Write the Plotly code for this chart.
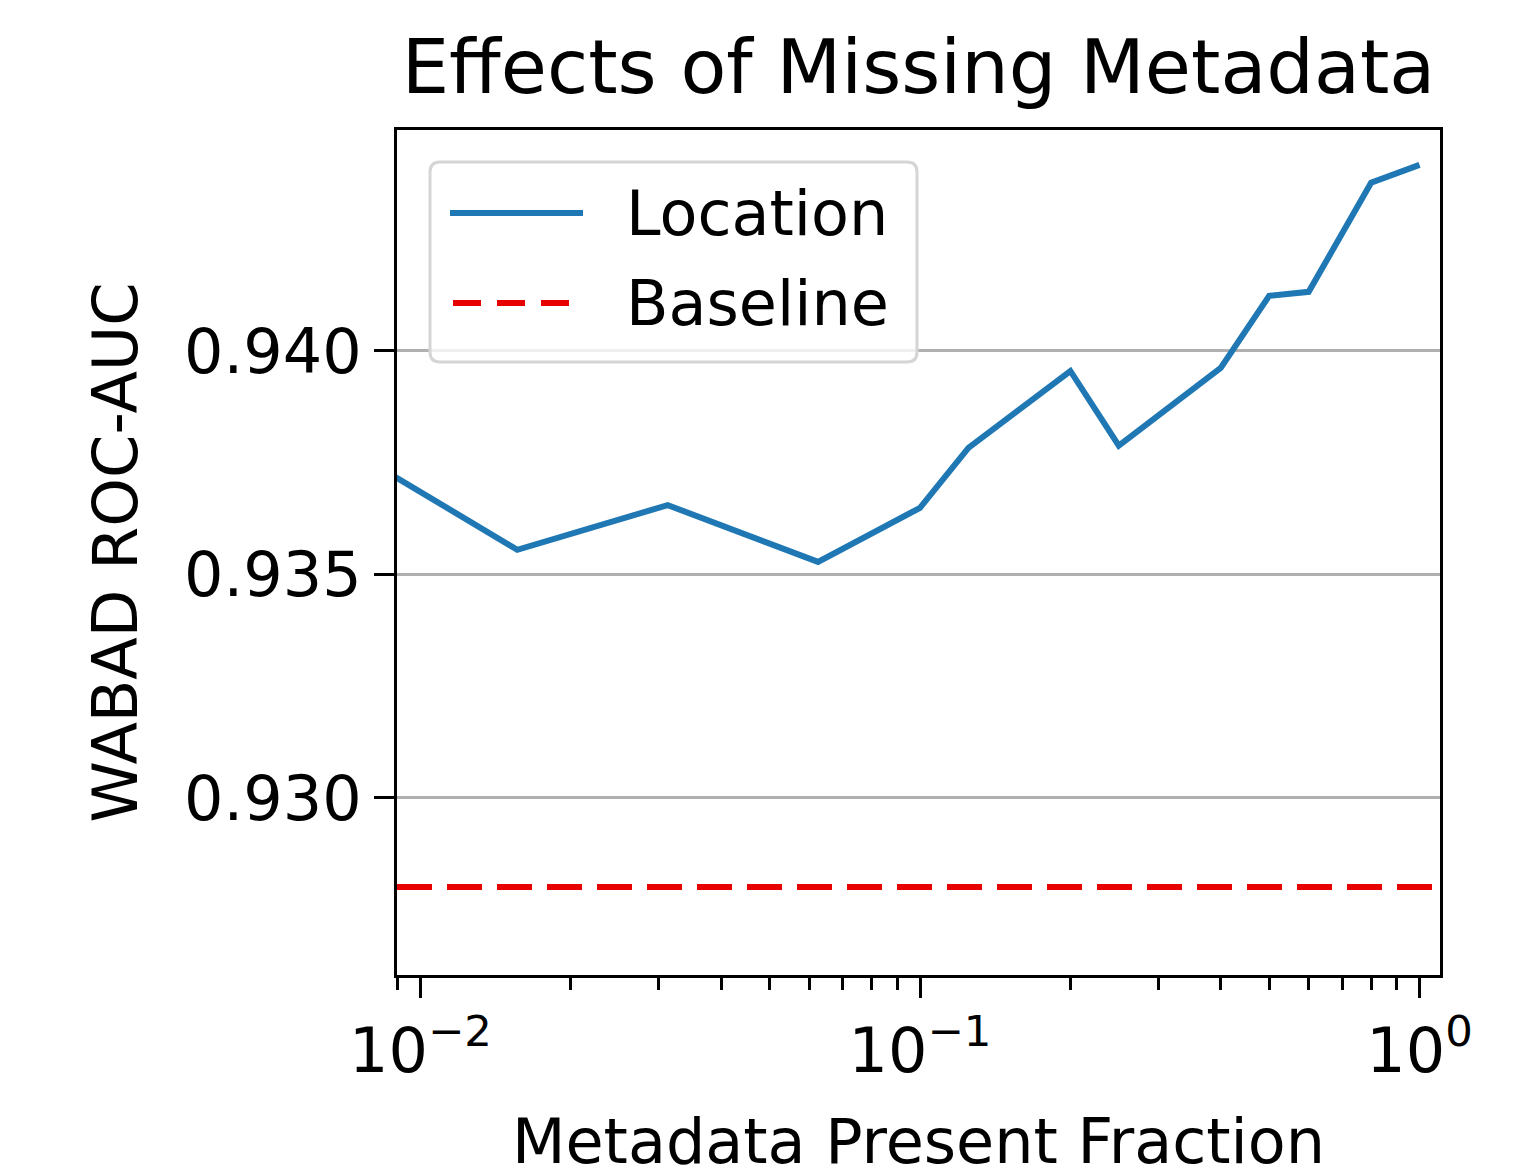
"""
Effects of missing metadata on WABAD ROC-AUC.
"""

from __future__ import annotations

import plotly.graph_objects as go

# fraction of samples that still carry metadata
fractions = [0.0078125, 0.015625, 0.03125, 0.0625, 0.1, 0.125, 0.2, 0.25, 0.4, 0.5, 0.6, 0.8, 1.0]
location_auc = [0.93756, 0.93555, 0.93655, 0.93528, 0.93649, 0.93783, 0.93955, 0.93788,
                0.93962, 0.94123, 0.94132, 0.94376, 0.94416]
baseline_auc = 0.92801

x_ticks = [0.01, 0.1, 1.0]
x_ticktext = ["10<sup>−2</sup>", "10<sup>−1</sup>", "10<sup>0</sup>"]
y_ticks = [0.930, 0.935, 0.940]
y_ticktext = ["0.930", "0.935", "0.940"]

FONT = "DejaVu Sans"
OFF = 8  # page body margin
W, H = 1535 - 2 * OFF, 1170
L, R, T, B = 389, 87, 122, 203
PW, PH = W - L - R, H - T - B


def px(x):
    # screen pixel -> paper fraction
    return (x - OFF - L) / PW


def py(y):
    return (H - B - (y - OFF)) / PH


minor_vals = [m * 10.0 ** e for e in (-3, -2, -1) for m in range(2, 10)]

fig = go.Figure()
fig.add_trace(go.Scatter(x=fractions, y=location_auc, mode="lines", name="Location",
                         line=dict(color="#1f77b4", width=6), showlegend=False))
fig.add_hline(y=baseline_auc, line=dict(color="#e60000", width=6, dash="35px,15px"))

axis_common = dict(
    showline=True, linecolor="black", linewidth=3, mirror=True,
    ticks="outside", ticklen=20, tickwidth=3, tickcolor="black",
    tickfont=dict(family=FONT, size=62, color="black"),
    zeroline=False, automargin=False,
)
fig.update_xaxes(
    type="log", range=[-2.047, 0.041],
    tickvals=x_ticks, ticktext=x_ticktext, showgrid=False,
    minor=dict(tickvals=minor_vals, ticks="outside", ticklen=12, tickwidth=2.5,
               tickcolor="black", showgrid=False),
    title=dict(text="Metadata Present Fraction", font=dict(family=FONT, size=62, color="black"),
               standoff=34),
    **axis_common,
)
fig.update_yaxes(
    range=[0.92604, 0.94494],
    tickvals=y_ticks, ticktext=y_ticktext,
    showgrid=True, gridcolor="#b0b0b0", gridwidth=2.5,
    title=dict(text="WABAD ROC-AUC", font=dict(family=FONT, size=62, color="black"),
               standoff=27),
    **axis_common,
)

# matplotlib-style legend box with rounded corners
x0, x1, y0, y1 = px(430), px(917), py(362), py(162)
rx, ry = 10 / PW, 10 / PH
path = (f"M{x0 + rx},{y0} L{x1 - rx},{y0} Q{x1},{y0} {x1},{y0 + ry} "
        f"L{x1},{y1 - ry} Q{x1},{y1} {x1 - rx},{y1} L{x0 + rx},{y1} "
        f"Q{x0},{y1} {x0},{y1 - ry} L{x0},{y0 + ry} Q{x0},{y0} {x0 + rx},{y0} Z")
fig.add_shape(type="path", path=path, xref="paper", yref="paper",
              fillcolor="rgba(255,255,255,0.8)", line=dict(color="#d5d5d5", width=3))
fig.add_shape(type="line", xref="paper", yref="paper", x0=px(450), x1=px(583),
              y0=py(213), y1=py(213), line=dict(color="#1f77b4", width=6))
fig.add_shape(type="line", xref="paper", yref="paper", x0=px(453), x1=px(580),
              y0=py(303), y1=py(303), line=dict(color="#e60000", width=6, dash="28px,16px"))
for label, yy in [("Location", 213), ("Baseline", 303)]:
    fig.add_annotation(text=label, xref="paper", yref="paper", x=px(624), y=py(yy),
                       xanchor="left", yanchor="middle", showarrow=False,
                       font=dict(family=FONT, size=62, color="black"))

fig.update_layout(
    title=dict(text="Effects of Missing Metadata", x=0.5, xref="paper", xanchor="center",
               y=1 - 59 / H, yref="container", yanchor="middle",
               font=dict(family=FONT, size=75, color="black")),
    width=W, height=H,
    margin=dict(l=L, r=R, t=T, b=B),
    plot_bgcolor="white", paper_bgcolor="white",
    showlegend=False,
)

fig.write_html("out.html")
